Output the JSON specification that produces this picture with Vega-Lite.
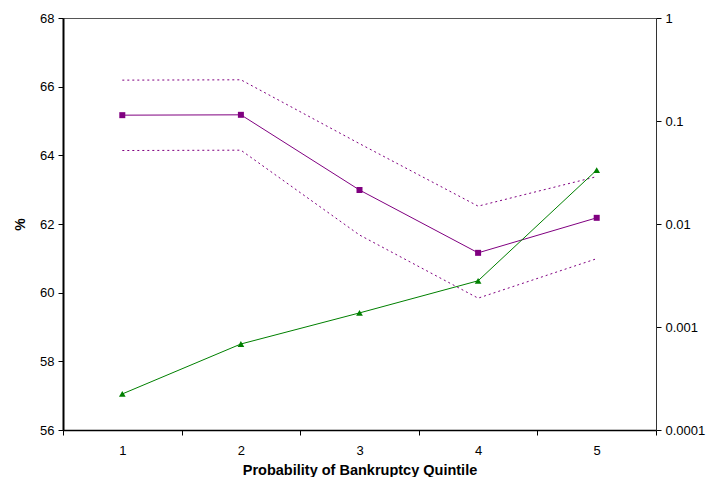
{
  "$schema": "https://vega.github.io/schema/vega-lite/v6.json",
  "width": 593,
  "height": 412,
  "autosize": "none",
  "padding": {"left": 63, "top": 18, "right": 56, "bottom": 47},
  "background": "white",
  "config": {
    "view": {"stroke": "#555555", "strokeWidth": 1},
    "axis": {"labelFont": "Liberation Sans", "titleFont": "Liberation Sans", "labelFontSize": 13, "labelColor": "#000", "grid": false, "tickSize": 5, "tickColor": "#000", "domainColor": "#000"}
  },
  "data": {"values": [
    {"q": "1", "est": 65.17, "upper": 66.19, "lower": 64.14, "prob": 0.000224},
    {"q": "2", "est": 65.18, "upper": 66.2, "lower": 64.15, "prob": 0.000684},
    {"q": "3", "est": 62.99, "upper": 64.34, "lower": 61.68, "prob": 0.00137},
    {"q": "4", "est": 61.16, "upper": 62.52, "lower": 59.84, "prob": 0.00281},
    {"q": "5", "est": 62.18, "upper": 63.38, "lower": 60.99, "prob": 0.0334}
  ]},
  "encoding": {
    "x": {"field": "q", "type": "ordinal", "scale": {"type": "band", "paddingInner": 0, "paddingOuter": 0},
      "axis": {"title": "Probability of Bankruptcy Quintile", "titleFontSize": 14.5, "titleFontWeight": "bold", "labelAngle": 0, "tickBand": "extent", "labelPadding": 9, "titlePadding": 6, "domainWidth": 1.5}}
  },
  "layer": [
    {
      "layer": [
        {
          "mark": {"type": "line", "color": "#800080", "strokeWidth": 1, "strokeDash": [2, 3]},
          "encoding": {"y": {"field": "upper", "type": "quantitative", "scale": {"domain": [56, 68], "nice": false, "zero": false},
            "axis": {"title": "%", "titleFontSize": 14, "titleFontWeight": "bold", "values": [56, 58, 60, 62, 64, 66, 68], "domainWidth": 2, "labelPadding": 4, "titlePadding": 12}}}
        },
        {
          "mark": {"type": "line", "color": "#800080", "strokeWidth": 1, "strokeDash": [2, 3]},
          "encoding": {"y": {"field": "lower", "type": "quantitative"}}
        },
        {
          "mark": {"type": "line", "color": "#800080", "strokeWidth": 1, "point": {"shape": "square", "size": 36, "color": "#800080", "filled": true}},
          "encoding": {"y": {"field": "est", "type": "quantitative"}}
        }
      ]
    },
    {
      "mark": {"type": "line", "color": "#008000", "strokeWidth": 1, "point": {"shape": "triangle-up", "size": 45, "color": "#008000", "filled": true}},
      "encoding": {"y": {"field": "prob", "type": "quantitative", "scale": {"type": "log", "domain": [0.0001, 1], "nice": false},
        "axis": {"orient": "right", "title": null, "values": [0.0001, 0.001, 0.01, 0.1, 1], "format": "~g", "domainColor": "#333", "labelPadding": 4}}}
    }
  ],
  "resolve": {"scale": {"y": "independent"}}
}
